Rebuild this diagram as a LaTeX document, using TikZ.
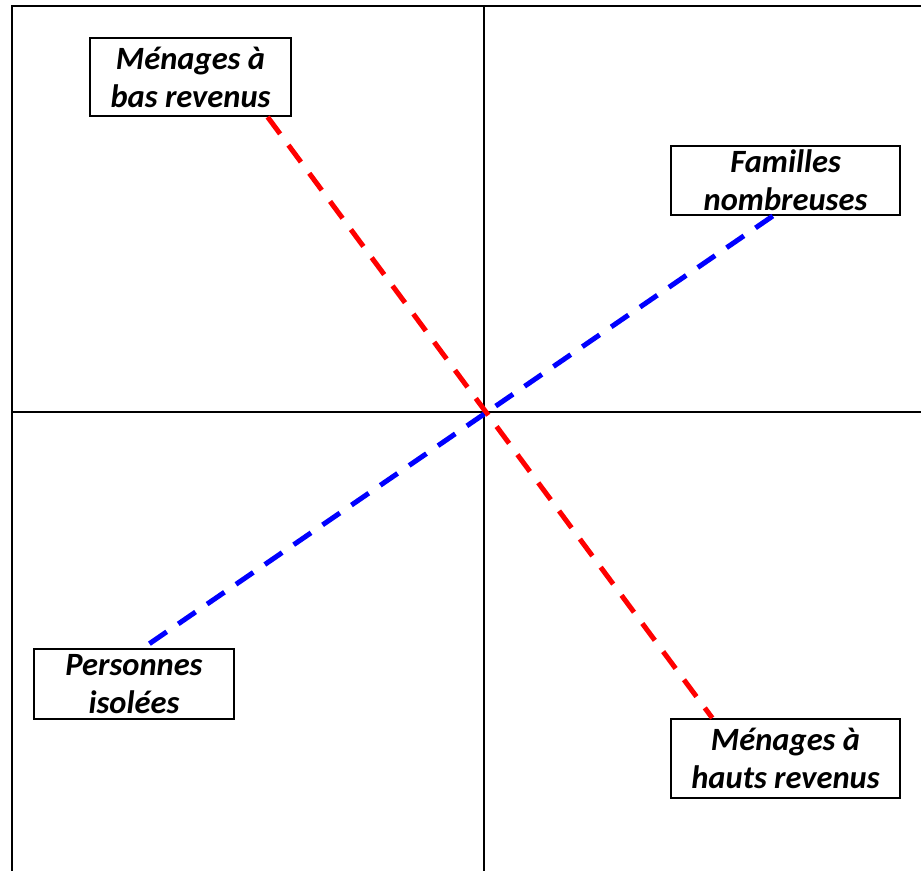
\documentclass[tikz,border=0pt]{standalone}
\usepackage{fontspec}
\setmainfont{Carlito}
\usetikzlibrary{calc}
\tikzset{
  lbl/.style={draw=black, line width=2pt, fill=white, inner sep=0pt, align=center,
    font=\fontsize{32.5}{38}\selectfont\bfseries\itshape, anchor=north west},
  axis/.style={draw=black, line width=1.6pt},
  dashline/.style={line width=5pt, dash pattern=on 21pt off 14pt}
}
\begin{document}
\begin{tikzpicture}[x=1pt,y=-1pt]
\useasboundingbox (0,0) rectangle (921,871);
% frame and axes
\coordinate (tl) at (12,6);
\coordinate (tr) at (921,6);
\coordinate (bl) at (12,871);
\coordinate (hl) at (12,412);
\coordinate (hr) at (921,412);
\coordinate (vt) at (484,6);
\coordinate (vb) at (484,871);
\draw[axis] (tr) -- (tl) -- (bl);
\draw[axis] (hl) -- (hr);
\draw[axis] (vt) -- (vb);
% boxes
\node[lbl, minimum width=201pt, minimum height=78pt] (b1) at (89,37) {Ménages à\\bas revenus};
\node[lbl, minimum width=229pt, minimum height=69pt] (b2) at (670,145) {Familles\\nombreuses};
\node[lbl, minimum width=200pt, minimum height=70pt] (b3) at (33,648) {Personnes\\isolées};
\node[lbl, minimum width=229pt, minimum height=79pt] (b4) at (670,718) {Ménages à\\hauts revenus};
% connectors
\draw[dashline, red] ($(b1.south west)!0.88!(b1.south east)$) -- ($(b4.north west)!0.183!(b4.north east)$);
\draw[dashline, blue] ($(b2.south west)!0.445!(b2.south east)$) -- ($(b3.north west)!0.545!(b3.north east)$);
\end{tikzpicture}
\end{document}
